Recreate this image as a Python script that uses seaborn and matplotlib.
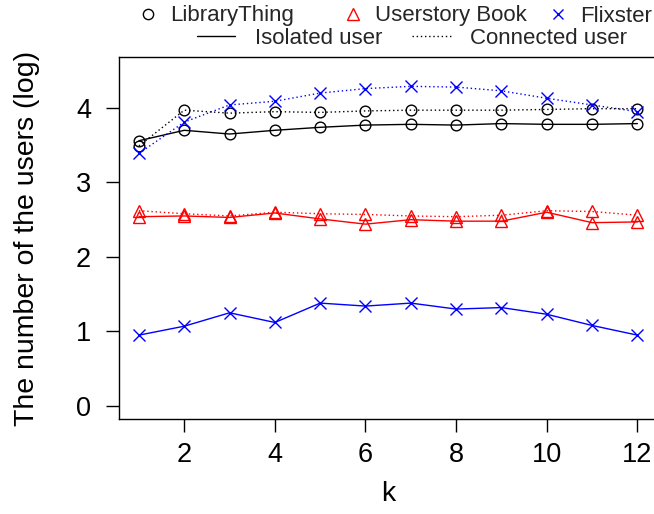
import matplotlib
matplotlib.use("Agg")
import matplotlib.pyplot as plt
from matplotlib.lines import Line2D
import seaborn as sns
import pandas as pd

# ---- data ----
k = [1, 2, 3, 4, 5, 6, 7, 8, 9, 10, 11, 12]
library_isolated = [3.56, 3.70, 3.65, 3.70, 3.74, 3.77, 3.78, 3.77, 3.79, 3.78, 3.78, 3.79]
library_connected = [3.49, 3.97, 3.93, 3.95, 3.94, 3.96, 3.97, 3.97, 3.97, 3.98, 3.99, 3.99]
userstory_isolated = [2.54, 2.55, 2.53, 2.59, 2.51, 2.44, 2.50, 2.48, 2.48, 2.60, 2.46, 2.47]
userstory_connected = [2.62, 2.58, 2.55, 2.60, 2.58, 2.57, 2.55, 2.54, 2.56, 2.62, 2.61, 2.56]
flixster_isolated = [0.95, 1.07, 1.25, 1.12, 1.38, 1.34, 1.38, 1.30, 1.32, 1.23, 1.08, 0.95]
flixster_connected = [3.39, 3.81, 4.04, 4.09, 4.20, 4.26, 4.29, 4.28, 4.23, 4.13, 4.04, 3.95]

dataset_labels = ["LibraryThing", "Userstory Book", "Flixster"]
type_labels = ["Isolated user", "Connected user"]
x_ticks = [2, 4, 6, 8, 10, 12]
y_ticks = [0, 1, 2, 3, 4]

sns.set_style("ticks")
plt.rcParams["font.family"] = ["Liberation Sans", "DejaVu Sans"]

W, H = 654, 514
fig = plt.figure(figsize=(W / 100, H / 100), dpi=100)
ax = fig.add_axes([119 / W, (H - 419.3) / H, (657.3 - 119) / W, (419.3 - 57.3) / H])

dotted = (0, (1, 2))
series = [
    (library_isolated, "black", "o", "-", 7.7),
    (library_connected, "black", "o", dotted, 7.7),
    (userstory_isolated, "red", "^", "-", 9.0),
    (userstory_connected, "red", "^", dotted, 9.0),
    (flixster_isolated, "blue", "x", "-", 8.0),
    (flixster_connected, "blue", "x", dotted, 8.0),
]
for vals, col, mk, ls, ms in series:
    df = pd.DataFrame({"k": k, "v": vals})
    sns.lineplot(data=df, x="k", y="v", ax=ax, color=col, marker=mk,
                 linestyle=ls, linewidth=1.0, markersize=ms,
                 markerfacecolor="none", markeredgecolor=col,
                 markeredgewidth=1.0, errorbar=None)

ax.set_xlim(0.56, 12.44)
ax.set_ylim(-0.18, 4.68)
ax.set_xticks(x_ticks)
ax.set_yticks(y_ticks)
ax.tick_params(axis="both", length=9.5, width=1.0, color="black",
               labelsize=19.5, labelcolor="black")
ax.tick_params(axis="x", pad=7)
ax.tick_params(axis="y", pad=10.5)
for s in ax.spines.values():
    s.set_linewidth(1.0)
    s.set_color("black")
ax.set_xlabel("k", fontsize=20.5, color="black")
ax.set_ylabel("The number of the users (log)", fontsize=20.5, color="black")
ax.xaxis.set_label_coords((388 - 119) / 538.3, -(494 - 419.3) / 362)
ax.yaxis.set_label_coords(-(119 - 40) / 538.3, 0.5)
ax.xaxis.label.set_va("center")

# ---- legends ----
fs = 16
em = fs * 100 / 72
row1_y = 1 - 16 / H
row2_y = 1 - 38 / H
entries = [
    (Line2D([], [], marker="o", ls="none", mfc="none", mec="black", ms=7.4, mew=1.0), dataset_labels[0], 139, row1_y, 0.8, 0.58),
    (Line2D([], [], marker="^", ls="none", mfc="none", mec="red", ms=8.5, mew=1.0), dataset_labels[1], 344, row1_y, 0.8, 0.58),
    (Line2D([], [], marker="x", ls="none", mfc="none", mec="blue", ms=7.5, mew=1.0), dataset_labels[2], 549, row1_y, 0.8, 0.58),
    (Line2D([], [], color="black", ls="-", lw=1.0), type_labels[0], 197, row2_y, 38 / em, 0.9),
    (Line2D([], [], color="black", ls=dotted, lw=1.0), type_labels[1], 412, row2_y, 40 / em, 0.8),
]
for h, lab, x0, y0, hl, hp in entries:
    fig.legend([h], [lab], loc="center left", bbox_to_anchor=(x0 / W, y0),
               frameon=False, fontsize=fs, borderpad=0, borderaxespad=0,
               handlelength=hl, handletextpad=hp, numpoints=1)

fig.savefig("out.png", dpi=100)
